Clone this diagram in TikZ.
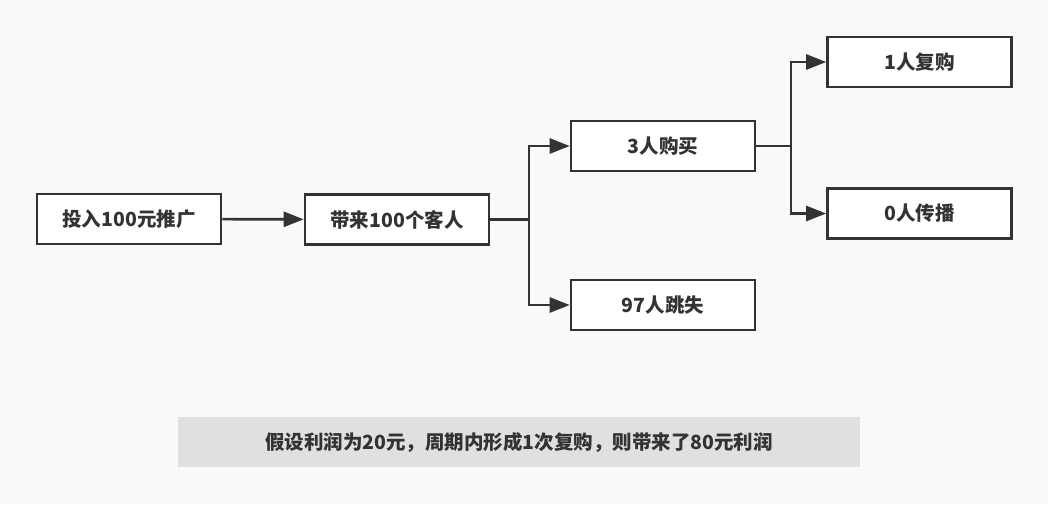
\documentclass[tikz,border=0pt]{standalone}
\usepackage{fontspec}
\newfontfamily\cjk{Noto Sans CJK SC}
\usetikzlibrary{arrows.meta}
\definecolor{ink}{HTML}{333333}
\definecolor{bg}{HTML}{F9F9F9}
\definecolor{notebg}{HTML}{E0E0E0}
\tikzset{
  box/.style={draw=ink, line width=2.6pt, fill=white, minimum width=184pt, minimum height=50pt, inner sep=0pt, text=ink, font=\cjk\bfseries\fontsize{19.5}{22}\selectfont},
  conn/.style={draw=ink, line width=2.6pt},
  arr/.style={conn, -{Triangle[length=20pt,width=15pt]}},
}
\begin{document}
\begin{tikzpicture}[x=1pt,y=-1pt]
\fill[bg] (0,0) rectangle (1048,504);
\useasboundingbox (0,0) rectangle (1048,504);
\node[box] (a) at (129,219) {投入100元推广};
\node[box] (b) at (397,219.5) {带来100个客人};
\node[box] (c) at (663,146) {3人购买};
\node[box] (d) at (663,305) {97人跳失};
\node[box] (e) at (919.5,62) {1人复购};
\node[box] (f) at (919.5,213.5) {0人传播};
\node[fill=notebg, minimum width=682pt, minimum height=50pt, inner sep=0pt, text=ink, font=\cjk\bfseries\fontsize{19.5}{22}\selectfont] (n) at (519,442) {假设利润为20元，周期内形成1次复购，则带来了80元利润};
\coordinate (j1) at (529,219.5);
\coordinate (j2) at (791,146);
\draw[arr] (a) -- (b);
\draw[conn] (b.east) -- (j1);
\draw[arr] (j1) |- (c.west);
\draw[arr] (j1) |- (d.west);
\draw[conn] (c.east) -- (j2);
\draw[arr] (j2) |- (e.west);
\draw[arr] (j2) |- (f.west);
\end{tikzpicture}
\end{document}
